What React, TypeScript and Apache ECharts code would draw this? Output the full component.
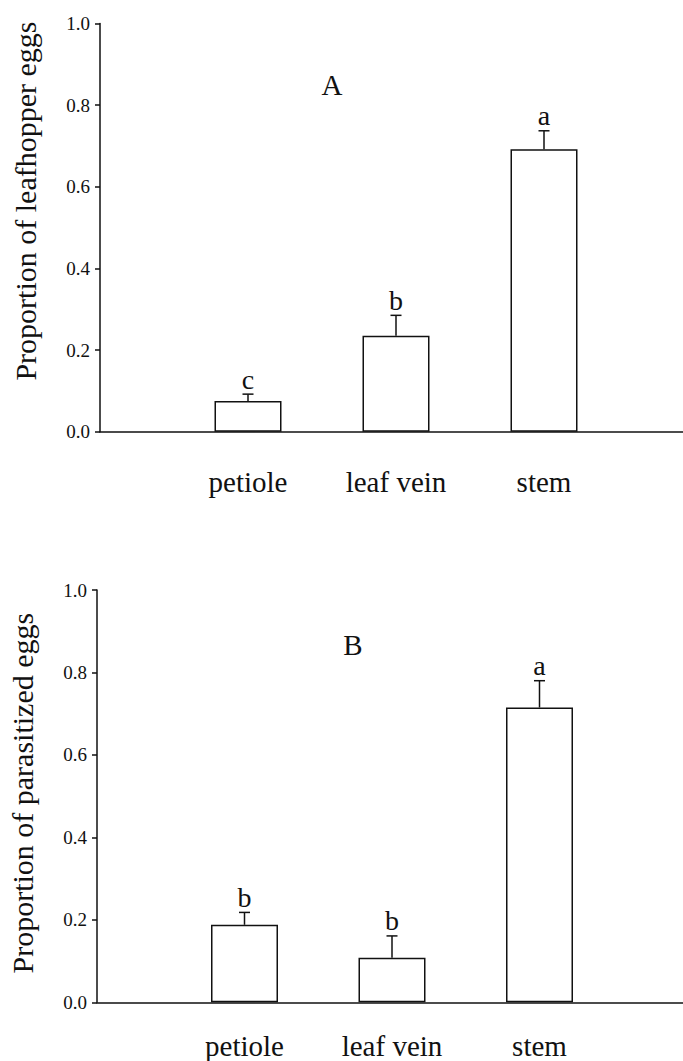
import React, { useEffect, useRef } from "react";
import * as echarts from "echarts";

const categories = ["petiole", "leaf vein", "stem"];
const leafhopperMeans = [0.075, 0.235, 0.692];
const leafhopperErrors = [0.017, 0.05, 0.045];
const leafhopperLetters = ["c", "b", "a"];
const parasitizedMeans = [0.188, 0.108, 0.715];
const parasitizedErrors = [0.03, 0.053, 0.065];
const parasitizedLetters = ["b", "b", "a"];
const yTicks = [0, 0.2, 0.4, 0.6, 0.8, 1.0];

const SERIF = "Liberation Serif";
const xCats = [" ", ...categories, "  "];

function errorSeries(means: number[], errs: number[], letters: string[], idx: number) {
  return {
    type: "custom",
    xAxisIndex: idx,
    yAxisIndex: idx,
    silent: true,
    z: 5,
    data: means.map((m, i) => [i + 1, m, errs[i]]),
    renderItem: (params: any, api: any) => {
      const xi = api.value(0);
      const m = api.value(1);
      const e = api.value(2);
      const base = api.coord([xi, m]);
      const top = api.coord([xi, m + e]);
      const half = 5.5;
      return {
        type: "group",
        children: [
          {
            type: "line",
            shape: { x1: base[0], y1: base[1], x2: top[0], y2: top[1] },
            style: { stroke: "#111", lineWidth: 1.5 },
          },
          {
            type: "line",
            shape: { x1: top[0] - half, y1: top[1], x2: top[0] + half, y2: top[1] },
            style: { stroke: "#111", lineWidth: 1.5 },
          },
          {
            type: "text",
            x: top[0],
            y: top[1] - 1,
            style: {
              text: letters[params.dataIndex],
              textAlign: "center",
              textVerticalAlign: "bottom",
              fontFamily: SERIF,
              fontSize: 28,
              fill: "#111",
            },
          },
        ],
      };
    },
  };
}

export default function App() {
  const ref = useRef<HTMLDivElement>(null);
  useEffect(() => {
    if (!ref.current) return;
    const chart = echarts.init(ref.current, undefined, { renderer: "svg" });
    const axisLine = { show: true, lineStyle: { color: "#111", width: 1.5 } };
    const mkX = (idx: number, margin: number) => ({
      type: "category",
      gridIndex: idx,
      data: xCats,
      boundaryGap: false,
      axisLine,
      axisTick: { show: false },
      axisLabel: {
        margin,
        interval: 0,
        color: "#111",
        fontFamily: SERIF,
        fontSize: 29,
      },
      splitLine: { show: false },
    });
    const mkY = (idx: number, name: string, pad: number) => ({
      type: "value",
      gridIndex: idx,
      min: yTicks[0],
      max: yTicks[yTicks.length - 1],
      interval: 0.2,
      axisLine,
      axisTick: { show: true, inside: false, length: 5, lineStyle: { color: "#111", width: 1.5 } },
      axisLabel: {
        margin: 10,
        color: "#111",
        fontFamily: SERIF,
        fontSize: 19,
        formatter: (v: number) => v.toFixed(1),
      },
      splitLine: { show: false },
      name,
      nameLocation: "middle",
      nameGap: 60,
      nameTextStyle: {
        fontFamily: SERIF,
        fontSize: 30,
        color: "#111",
        padding: [0, 0, 0, pad],
      },
    });
    const barStyle = { color: "#fff", borderColor: "#111", borderWidth: 1.5 };
    chart.setOption({
      animation: false,
      backgroundColor: "#fff",
      textStyle: { fontFamily: SERIF },
      grid: [
        { left: 100, top: 23.4, width: 592, height: 408.3, outerBoundsMode: "none", containLabel: false },
        { left: 97, top: 590, width: 590, height: 412.3, outerBoundsMode: "none", containLabel: false },
      ],
      xAxis: [mkX(0, 36), mkX(1, 29)],
      yAxis: [mkY(0, "Proportion of leafhopper eggs", 53), mkY(1, "Proportion of parasitized eggs", 6)],
      graphic: [
        {
          type: "text",
          x: 332,
          y: 85,
          style: { text: "A", textAlign: "center", textVerticalAlign: "middle", fontFamily: SERIF, fontSize: 29, fill: "#111" },
        },
        {
          type: "text",
          x: 353,
          y: 645,
          style: { text: "B", textAlign: "center", textVerticalAlign: "middle", fontFamily: SERIF, fontSize: 29, fill: "#111" },
        },
      ],
      series: [
        {
          type: "bar",
          xAxisIndex: 0,
          yAxisIndex: 0,
          barWidth: 67,
          data: ["-", ...leafhopperMeans, "-"],
          itemStyle: barStyle,
        },
        {
          type: "bar",
          xAxisIndex: 1,
          yAxisIndex: 1,
          barWidth: 67,
          data: ["-", ...parasitizedMeans, "-"],
          itemStyle: barStyle,
        },
        errorSeries(leafhopperMeans, leafhopperErrors, leafhopperLetters, 0),
        errorSeries(parasitizedMeans, parasitizedErrors, parasitizedLetters, 1),
      ],
    });
    return () => chart.dispose();
  }, []);
  return (
    <div
      ref={ref}
      style={{ position: "absolute", left: 0, top: 0, width: 683, height: 1061 }}
    />
  );
}
